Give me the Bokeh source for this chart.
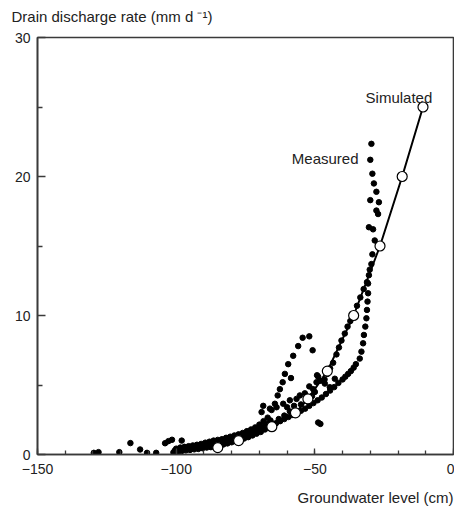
from bokeh.plotting import figure
from bokeh.models import Range1d, FixedTicker, Label, Title
from bokeh.embed import file_html
from bokeh.resources import INLINE

# ---- axis ticks ----
x_ticks = [-150, -100, -50, 0]
x_tick_labels = ["\u2212150", "\u2212100", "\u221250", "0"]
x_minor = [-150, -140, -130, -120, -110, -100, -90, -80, -70, -60, -50, -40, -30, -20, -10, 0]
y_ticks = [0, 10, 20, 30]
y_tick_labels = ["0", "10", "20", "30"]
y_minor = [5, 15, 25]

# ---- simulated ----
sim_x = [-85, -77.5, -65.5, -57, -52.5, -45.5, -36, -26.5, -18.5, -11]
sim_y = [0.5, 1, 2, 3, 4, 6, 10, 15, 20, 25]

# ---- measured (grouped) ----
out_x = [-129.7, -128.0, -120.5, -116.5, -113.0, -110.5, -107.2, -104.0, -102.8, -101.5, -100.4, -98.0]
out_y = [0.12, 0.17, 0.17, 0.82, 0.36, 0.12, 0.12, 0.81, 0.96, 1.06, 0.12, 1.0]

low_x = [-101, -99.5, -98, -96.5, -95, -93.5, -92, -90.5, -89, -87.5, -86, -84.5, -83, -81.5, -80,
         -78.5, -77, -75.5, -74, -72.5, -71, -69.5, -68, -66.5, -65]
low_y = [0.15, 0.2, 0.25, 0.3, 0.33, 0.37, 0.4, 0.45, 0.5, 0.53, 0.58, 0.65, 0.72, 0.8, 0.88,
         0.97, 1.05, 1.15, 1.25, 1.37, 1.5, 1.62, 1.8, 1.98, 2.2]

up_x = [-100, -98.5, -97, -95.5, -94, -92.5, -91, -89.5, -88, -86.5, -85, -83.5, -82, -80.5, -79,
        -77.5, -76, -74.5, -73, -71.5, -70, -68.5, -67]
up_y = [0.42, 0.5, 0.55, 0.6, 0.65, 0.7, 0.76, 0.85, 0.92, 1.0, 1.05, 1.1, 1.2, 1.28, 1.37,
        1.45, 1.55, 1.68, 1.8, 1.95, 2.15, 2.4, 2.65]

mid_x = [-100.5, -99, -97.5, -96, -94.5, -93, -91.5, -90, -88.5, -87, -85.5, -84, -82.5, -81, -79.5,
         -78, -76.5, -75, -73.5, -72, -70.5, -69, -67.5, -66]
mid_y = [0.28, 0.35, 0.4, 0.45, 0.48, 0.53, 0.58, 0.63, 0.7, 0.77, 0.82, 0.88, 0.96, 1.04, 1.12,
         1.2, 1.3, 1.42, 1.52, 1.65, 1.82, 2.0, 2.2, 2.45]

branch_x = [-64, -62.5, -61, -59.5, -58, -56.5, -55, -53.5, -52, -50.5, -49, -47.5, -46, -44.5, -43,
            -41.5, -40, -39, -38, -37, -36, -35.2,
            -33.8, -33.2, -32.6, -32.3, -31.8, -31.4, -31.2, -31.0, -30.8, -30.8]
branch_y = [2.25, 2.4, 2.55, 2.7, 2.85, 3.0, 3.15, 3.3, 3.5, 3.7, 3.9, 4.1, 4.35, 4.6, 4.85,
            5.15, 5.4, 5.6, 5.8, 6.0, 6.25, 6.5,
            6.9, 7.4, 8.0, 8.6, 9.2, 9.8, 10.4, 11.0, 11.6, 12.3]

spike_x = [-30.5, -30.2, -29.6, -29.25, -28.4, -29.0, -30.5, -27.2, -27.8, -26.9, -30.0, -27.8,
           -28.7, -29.25, -30.0, -29.6]
spike_y = [12.9, 13.3, 13.7, 14.4, 15.4, 16.2, 16.35, 17.3, 17.55, 18.15, 18.3, 18.9,
           19.5, 20.2, 21.2, 22.35]

upper_x = [-46.5, -45.5, -44.5, -43.4, -42.2, -41.3, -40.4, -39.2, -38.2, -37.2, -34.8, -33.6, -32.4, -31.2]
upper_y = [5.4, 5.8, 6.2, 6.6, 7.2, 7.7, 8.2, 8.7, 9.2, 9.6, 10.7, 11.3, 11.9, 12.4]

cluster_x = [-69.2, -68.6, -66.2, -63.8, -61.4, -59.0, -56.6, -55.4, -53.6, -50.6, -49.4, -48.8, -48.2,
             -47.0, -46.4, -44.6, -42.8, -63.0, -61.0, -59.0, -55.0, -53.0, -51.0, -49.2, -60.0,
             -57.5, -52.0, -50.0]
cluster_y = [3.05, 3.5, 3.3, 3.4, 3.65, 3.9, 4.0, 4.25, 4.4, 4.7, 5.2, 5.6, 5.3,
             5.3, 5.1, 4.84, 5.45, 2.55, 2.8, 3.1, 3.6, 3.85, 4.2, 5.7, 3.4,
             3.5, 4.9, 4.5]

hump_x = [-65.6, -64.4, -63.4, -62.6, -61.6, -60.8, -58.6, -59.6, -57.8, -56.0, -54.4, -52.0, -50.8]
hump_y = [3.2, 3.65, 4.25, 4.7, 5.2, 5.8, 5.5, 6.5, 7.1, 7.8, 8.4, 8.5, 7.5]

iso_x = [-48.8, -48.0]
iso_y = [2.3, 2.2]

meas_x = out_x + low_x + up_x + mid_x + branch_x + spike_x + upper_x + cluster_x + hump_x + iso_x
meas_y = out_y + low_y + up_y + mid_y + branch_y + spike_y + upper_y + cluster_y + hump_y + iso_y

FONT = "Liberation Sans"
TXT = "#222222"
AX = "#3a3a3a"

p = figure(width=454, height=508, output_backend="svg", toolbar_location=None,
           x_range=Range1d(-150, 0), y_range=Range1d(0, 30),
           min_border_left=37, min_border_right=1, min_border_top=37, min_border_bottom=54)
p.xgrid.visible = False
p.ygrid.visible = False
p.outline_line_color = AX
p.outline_line_width = 1.6
p.background_fill_color = "white"
p.border_fill_color = "white"

p.xaxis.ticker = FixedTicker(ticks=x_ticks, minor_ticks=x_minor)
p.yaxis.ticker = FixedTicker(ticks=y_ticks, minor_ticks=y_minor)
p.xaxis.major_label_overrides = dict(zip(x_ticks, x_tick_labels))
p.yaxis.major_label_overrides = dict(zip(y_ticks, y_tick_labels))
for ax in (p.xaxis, p.yaxis):
    ax.axis_line_color = AX
    ax.axis_line_width = 1.6
    ax.major_tick_line_color = AX
    ax.minor_tick_line_color = AX
    ax.major_tick_line_width = 1.3
    ax.minor_tick_line_width = 1.3
    ax.major_tick_out = 0
    ax.minor_tick_out = 0
    ax.major_label_text_font = FONT
    ax.major_label_text_font_size = "14px"
    ax.major_label_text_color = TXT
p.xaxis.major_tick_in = 6
p.xaxis.minor_tick_in = 4
p.yaxis.major_tick_in = 8
p.yaxis.minor_tick_in = 5
p.xaxis.major_label_standoff = 9
p.yaxis.major_label_standoff = 7

p.scatter(meas_x, meas_y, marker="circle", size=5.5, fill_color="black", line_color="black")
p.line(sim_x, sim_y, line_color="black", line_width=2)
p.scatter(sim_x, sim_y, marker="circle", size=10, fill_color="white", line_color="black", line_width=1.2)

# axis titles in side panels (an extra blank line lifts / lowers the text)
ytitle = Title(text="Drain discharge rate (mm d \u207b\u00b9)\n\u00a0", align="left", offset=-26, standoff=8,
               text_line_height=0.5,
               text_font=FONT, text_font_size="15px", text_font_style="normal", text_color=TXT)
p.add_layout(ytitle, "above")
xtitle = Title(text="\u00a0\nGroundwater level (cm)", align="right", offset=0, standoff=2,
               text_line_height=0.6,
               text_font=FONT, text_font_size="15px", text_font_style="normal", text_color=TXT)
p.add_layout(xtitle, "below")

p.add_layout(Label(x=-31.7, y=25.7, text="Simulated", text_font=FONT, text_font_size="15px",
                   text_color=TXT, text_baseline="alphabetic"))
p.add_layout(Label(x=-58.3, y=21.3, text="Measured", text_font=FONT, text_font_size="15px",
                   text_color=TXT, text_baseline="alphabetic"))

open("out.html", "w").write(file_html(p, INLINE))
